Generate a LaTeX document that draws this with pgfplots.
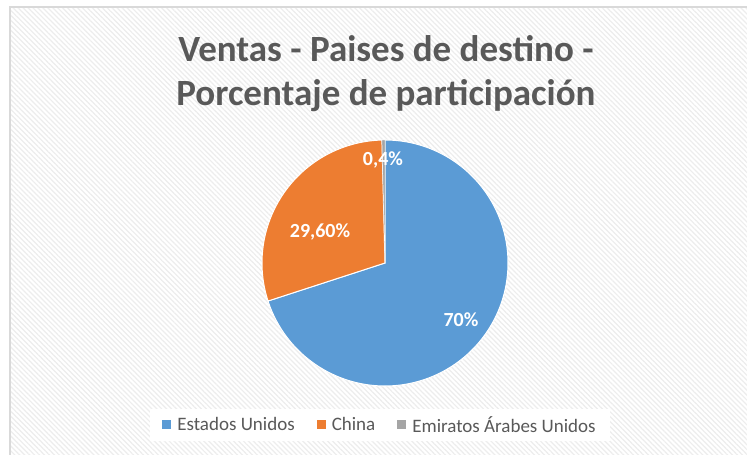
\documentclass[border=0pt]{standalone}
\usepackage{fontspec}
\setmainfont{Carlito}
\usepackage{pgfplots}
\pgfplotsset{compat=1.18}
\usetikzlibrary{patterns.meta}

\definecolor{xlblue}{HTML}{5B9BD5}
\definecolor{xlorange}{HTML}{ED7D31}
\definecolor{xlgray}{HTML}{A5A5A5}
\definecolor{xltext}{HTML}{595959}
\definecolor{xlframe}{HTML}{D9D9D9}

% shares (percent)
\def\vUS{70}
\def\vCN{29.6}
\def\vAE{0.4}
% pie centre and radius in picture pixels (y measured from bottom)
\def\cx{385}
\def\cy{192}
\def\rr{123}

\begin{document}
\begin{tikzpicture}
\pgfmathsetmacro{\aA}{0}
\pgfmathsetmacro{\aB}{3.6*\vUS}
\pgfmathsetmacro{\aC}{3.6*(\vUS+\vCN)}
\pgfmathsetmacro{\aD}{3.6*(\vUS+\vCN+\vAE)}
\begin{axis}[
    at={(0,0)}, anchor=south west,
    scale only axis, width=747pt, height=455pt,
    xmin=0, xmax=747, ymin=0, ymax=455,
    hide axis, clip=false,
    legend columns=3,
    legend style={font=\fontsize{19}{21}\selectfont, text=xltext,
                  draw=none, fill=white, inner xsep=12pt, inner ysep=5pt,
                  at={(380/747,1-425/455)}, anchor=center,
                  /tikz/every odd column/.append style={column sep=4pt},
                  /tikz/every even column/.append style={column sep=20pt}},
    legend image code/.code={\fill[#1,draw=none] (0pt,-4pt) rectangle (9pt,5pt);},
]
  % background frame
  \fill[white] (axis cs:10,-10) rectangle (axis cs:760,448);
  \fill[pattern={Lines[angle=-45, distance=3.5pt, line width=1.2pt]},
        pattern color=black!7] (axis cs:10,-10) rectangle (axis cs:760,448);
  \draw[xlframe, line width=2pt] (axis cs:760,448) -- (axis cs:10,448) -- (axis cs:10,-10);

  \addplot[fill=xlblue, draw=white, line width=1pt, domain=\aA:\aB, samples=180]
      ({\cx+\rr*sin(x)},{\cy+\rr*cos(x)}) -- (axis cs:\cx,\cy) -- cycle;
  \addlegendentry{Estados Unidos}
  \addplot[fill=xlorange, draw=white, line width=1pt, domain=\aB:\aC, samples=80]
      ({\cx+\rr*sin(x)},{\cy+\rr*cos(x)}) -- (axis cs:\cx,\cy) -- cycle;
  \addlegendentry{China}
  \addplot[fill=xlgray, draw=white, line width=0.4pt, domain=\aC:\aD, samples=5]
      ({\cx+\rr*sin(x)},{\cy+\rr*cos(x)}) -- (axis cs:\cx,\cy) -- cycle;
  \addlegendentry{Emiratos Árabes Unidos}

  % data labels
  \node[white, font=\bfseries\fontsize{20}{22}\selectfont] at (axis cs:461,135) {70\%};
  \node[white, font=\bfseries\fontsize{20}{22}\selectfont] at (axis cs:320,223) {29,60\%};
  \node[white, font=\bfseries\fontsize{20}{22}\selectfont] at (axis cs:383,295) {0,4\%};

  % title
  \node[xltext, font=\bfseries\fontsize{37}{44}\selectfont, align=center]
      at (axis cs:386,381) {Ventas - Paises de destino -\\Porcentaje de participación};
\end{axis}
\pgfresetboundingbox
\useasboundingbox (0,0) rectangle (747pt,455pt);
\end{tikzpicture}
\end{document}
